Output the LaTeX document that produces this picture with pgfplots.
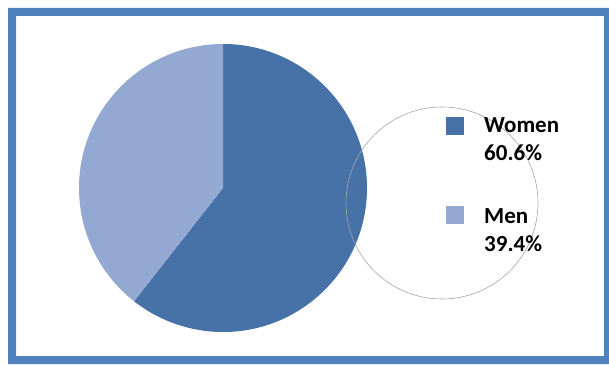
\documentclass[border=0pt]{standalone}
\usepackage{pgfplots}
\usepackage{pgfplotstable}
\pgfplotsset{compat=1.18}
\usepackage{fontspec}
\setmainfont{Carlito}
\definecolor{women}{HTML}{4672A8}
\definecolor{men}{HTML}{93A9D1}
\definecolor{frame}{HTML}{4F81BD}
\pgfplotstableread{
label value
Women 60.6
Men 39.4
}\piedata
\begin{document}
\begin{tikzpicture}
\pgfplotstablegetelem{0}{value}\of\piedata\let\vw\pgfplotsretval
\pgfplotstablegetelem{1}{value}\of\piedata\let\vm\pgfplotsretval
\begin{axis}[width=609pt,height=364pt,scale only axis,hide axis,
  xmin=0,xmax=609,ymin=0,ymax=364,clip=false]
% full picture area
\path (axis cs:0,0) rectangle (axis cs:609,364);
% frame (filled band, kept inside the picture)
\fill[frame,even odd rule] (axis cs:8,0) rectangle (axis cs:609,356)
  (axis cs:16,8) rectangle (axis cs:604,348);
% pie
\pgfmathsetmacro{\endw}{90-3.6*\vw}
\fill[women] (axis cs:223,176) -- ++(90:144pt) arc[start angle=90,end angle=\endw,radius=144pt] -- cycle;
\fill[men] (axis cs:223,176) -- ++(\endw:144pt) arc[start angle=\endw,end angle=-270,radius=144pt] -- cycle;
% watermark circle
\draw[gray!70,line width=0.6pt] (axis cs:442,161) circle[radius=96pt];
% legend
\fill[women] (axis cs:446,229) rectangle (axis cs:464,247);
\fill[men] (axis cs:446,140) rectangle (axis cs:464,158);
\tikzset{lgd/.style={anchor=base west,inner sep=0pt,font=\fontsize{23}{28}\selectfont\bfseries}}
\node[lgd] at (axis cs:484,231) {Women};
\node[lgd] at (axis cs:484,203) {\pgfmathprintnumber[assume math mode=true,fixed,precision=1,fixed zerofill]{\vw}\%};
\node[lgd] at (axis cs:484,140) {Men};
\node[lgd] at (axis cs:484,113) {\pgfmathprintnumber[assume math mode=true,fixed,precision=1,fixed zerofill]{\vm}\%};
\end{axis}
\end{tikzpicture}
\end{document}
